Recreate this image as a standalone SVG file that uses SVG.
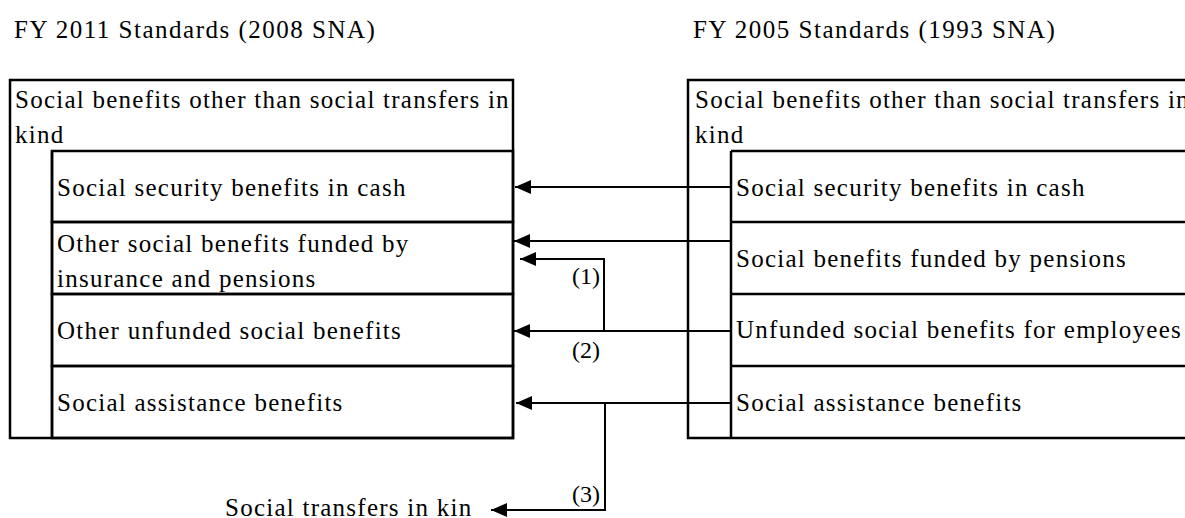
<svg xmlns="http://www.w3.org/2000/svg" width="1185" height="518" viewBox="0 0 1185 518">
<style>
.t{font-family:"Liberation Serif","Times New Roman",serif;font-size:25px;letter-spacing:1.25px;fill:#000}
.h{font-family:"Liberation Serif","Times New Roman",serif;font-size:25px;letter-spacing:1.5px;fill:#000}
.lbl{font-family:"Liberation Serif","Times New Roman",serif;font-size:24px;fill:#000;text-anchor:end}
.bx{fill:none;stroke:#000;stroke-width:2.5}
.ln{stroke:#000;stroke-width:2.5;fill:none}
.c{stroke:#000;stroke-width:2;fill:none;marker-end:url(#ah)}
</style>
<defs>
<marker id="ah" markerUnits="userSpaceOnUse" markerWidth="16" markerHeight="14" refX="16" refY="7" orient="auto">
<path d="M0,0 L16,7 L0,14 z" fill="#000"/>
</marker>
</defs>
<rect width="1185" height="518" fill="#fff"/>
<g id="headers">
<text class="h" x="14" y="38">FY 2011 Standards (2008 SNA)</text>
<text class="h" x="693" y="38">FY 2005 Standards (1993 SNA)</text>
</g>
<g id="new-parent">
<rect class="bx" x="10" y="80" width="503" height="358"/>
<line class="ln" x1="52" y1="151" x2="52" y2="438"/>
<text class="t" x="15" y="108">Social benefits other than social transfers in</text>
<text class="t" x="15" y="143">kind</text>
</g>
<g id="new-row1">
<rect class="bx" x="52" y="151" width="461" height="71"/>
<text class="t" x="57" y="196">Social security benefits in cash</text>
</g>
<g id="new-row2">
<rect class="bx" x="52" y="222" width="461" height="72"/>
<text class="t" x="57" y="252">Other social benefits funded by</text>
<text class="t" x="57" y="287">insurance and pensions</text>
</g>
<g id="new-row3">
<rect class="bx" x="52" y="294" width="461" height="72"/>
<text class="t" x="57" y="339">Other unfunded social benefits</text>
</g>
<g id="new-row4">
<rect class="bx" x="52" y="366" width="461" height="72"/>
<text class="t" x="57" y="411">Social assistance benefits</text>
</g>
<g id="old-parent">
<path class="ln" d="M1192,80 H688 V438 H1192"/>
<line class="ln" x1="731" y1="151" x2="731" y2="438"/>
<text class="t" x="695" y="108">Social benefits other than social transfers in</text>
<text class="t" x="695" y="143">kind</text>
</g>
<g id="old-row1">
<path class="ln" d="M1192,151 H731 M731,222 H1192"/>
<text class="t" x="736" y="196">Social security benefits in cash</text>
</g>
<g id="old-row2">
<path class="ln" d="M731,294 H1192"/>
<text class="t" x="736" y="267">Social benefits funded by pensions</text>
</g>
<g id="old-row3">
<path class="ln" d="M731,366 H1192"/>
<text class="t" x="736" y="338">Unfunded social benefits for employees</text>
</g>
<g id="old-row4">
<text class="t" x="736" y="411">Social assistance benefits</text>
</g>
<g id="transfers-in-kind">
<text class="t" x="225" y="516">Social transfers in kin</text>
</g>
<g id="connectors">
<path class="c" d="M731,187 H515"/>
<path class="c" d="M731,241 H514"/>
<path class="c" d="M604,331 V259 H520"/>
<path class="c" d="M731,331 H514"/>
<path class="c" d="M731,403 H516"/>
<path class="c" d="M605,403 V510 H491"/>
<text class="lbl" x="600" y="284">(1)</text>
<text class="lbl" x="600" y="358">(2)</text>
<text class="lbl" x="600" y="502">(3)</text>
</g>
</svg>
